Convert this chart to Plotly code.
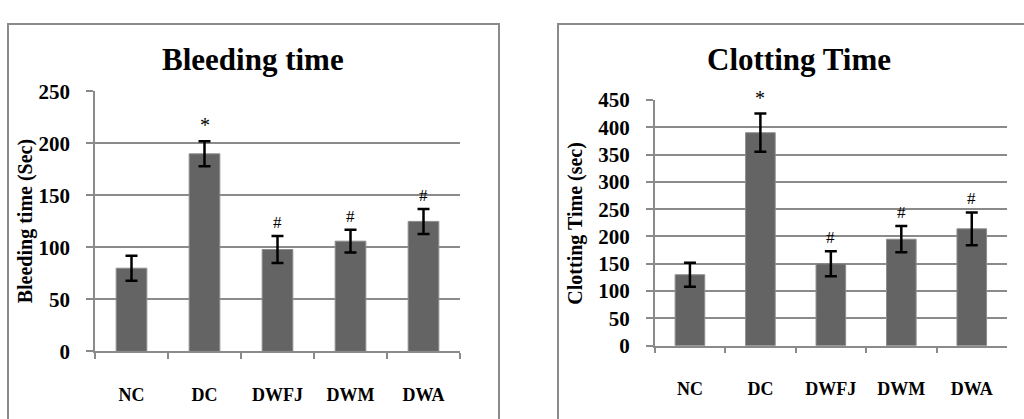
import plotly.graph_objects as go

groups = ["NC", "DC", "DWFJ", "DWM", "DWA"]
bleeding_mean = [80, 190, 98, 106, 125]
bleeding_err = [12, 12, 13, 11, 12]
bleeding_marks = ["", "*", "#", "#", "#"]
clotting_mean = [130, 390, 150, 195, 214]
clotting_err = [22, 35, 23, 24, 30]
clotting_marks = ["", "*", "#", "#", "#"]

W, H = 1024, 419
FONT = "Liberation Serif"
GRAY = "#8a8a8a"
BAR = "#646464"

fig = go.Figure()

panels = [
    dict(x="x", y="y", mean=bleeding_mean, err=bleeding_err, marks=bleeding_marks,
         xdom=[95 / W, 460 / W], ydom=[1 - 360 / H, 1 - 84.3 / H], yrange=[0, 250],
         title="Bleeding time", ytitle="Bleeding time (Sec)",
         tx=253 / W, ytx=25 / W, yty=1 - 222 / H, box=[8 / W, 499 / W]),
    dict(x="x2", y="y2", mean=clotting_mean, err=clotting_err, marks=clotting_marks,
         xdom=[654.7 / W, 1007 / W], ydom=[1 - 354 / H, 1 - 93.3 / H], yrange=[0, 450],
         title="Clotting Time", ytitle="Clotting Time (sec)",
         tx=799 / W, ytx=575.5 / W, yty=1 - 224 / H, box=[558 / W, 1.05]),
]

annotations = []
shapes = []
for i, p in enumerate(panels):
    fig.add_trace(go.Bar(
        x=groups, y=p["mean"], xaxis=p["x"], yaxis=p["y"],
        marker=dict(color=BAR, line=dict(color="#8c8c8c", width=1)),
        width=0.42,
        error_y=dict(type="data", array=p["err"], visible=True,
                     color="black", thickness=2.5, width=6),
        showlegend=False, hoverinfo="skip",
    ))
    for g, m, e, mk in zip(groups, p["mean"], p["err"], p["marks"]):
        if mk:
            annotations.append(dict(
                x=g, y=m + e, xref=p["x"], yref=p["y"], text=mk,
                showarrow=False, yanchor="bottom", yshift=2 if mk == "#" else 3,
                font=dict(family=FONT, size=20 if mk == "*" else 17, color="black"),
            ))
    annotations.append(dict(
        x=p["tx"], y=1 - 50 / H, xref="paper", yref="paper",
        text="<b>" + p["title"] + "</b>", showarrow=False,
        xanchor="center", yanchor="middle",
        font=dict(family=FONT, size=31, color="black"),
    ))
    annotations.append(dict(
        x=p["ytx"], y=p["yty"], xref="paper", yref="paper",
        text="<b>" + p["ytitle"] + "</b>", showarrow=False, textangle=-90,
        xanchor="center", yanchor="middle",
        font=dict(family=FONT, size=20, color="black"),
    ))
    shapes.append(dict(
        type="rect", xref="paper", yref="paper",
        x0=p["box"][0], x1=p["box"][1], y0=-0.1, y1=1 - 12.7 / H,
        line=dict(color=GRAY, width=2), fillcolor="rgba(0,0,0,0)", layer="below",
    ))

    sfx = "" if i == 0 else "2"
    fig.layout["xaxis" + sfx] = dict(
        domain=p["xdom"], anchor=p["y"], type="category",
        tickson="boundaries", ticks="outside", ticklen=6, tickwidth=1.5, tickcolor=GRAY,
        showline=True, linecolor=GRAY, linewidth=1.5, showgrid=False,
        tickfont=dict(family=FONT, size=18, color="black", weight="bold"),
        ticklabelstandoff=26, fixedrange=True,
    )
    fig.layout["yaxis" + sfx] = dict(
        domain=p["ydom"], anchor=p["x"], range=p["yrange"], dtick=50,
        ticks="outside", ticklen=7, tickwidth=1.5, tickcolor=GRAY,
        showline=True, linecolor=GRAY, linewidth=1.5,
        showgrid=True, gridcolor=GRAY, gridwidth=1.5, zeroline=False,
        tickfont=dict(family=FONT, size=21, color="black", weight="bold"),
        ticklabelstandoff=12, fixedrange=True,
    )

fig.update_layout(
    width=W, height=H, margin=dict(l=0, r=0, t=0, b=0),
    paper_bgcolor="white", plot_bgcolor="white",
    annotations=annotations, shapes=shapes, bargap=0.58,
)

fig.write_html("out.html", config={"displayModeBar": False})
